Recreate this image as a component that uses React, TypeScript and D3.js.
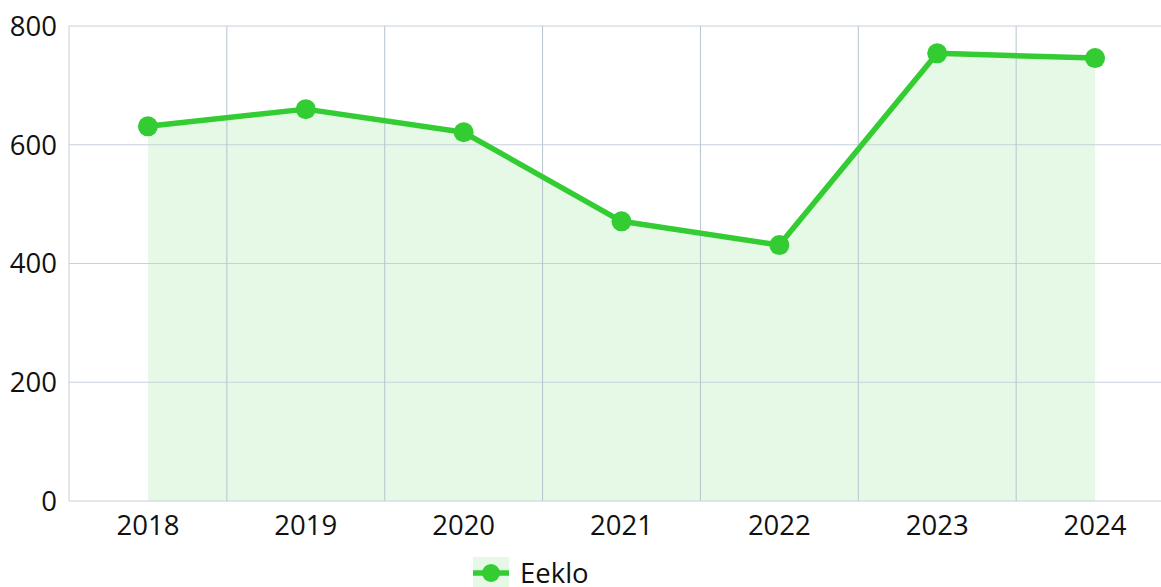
import React from 'react';
import * as d3 from 'd3';

const years = ['2018', '2019', '2020', '2021', '2022', '2023', '2024'];
const values = [631, 660, 621, 471, 431, 754, 746];
const yTicks = [0, 200, 400, 600, 800];
const seriesName = 'Eeklo';

const W = 1161;
const H = 587;
const LEFT = 69;
const RIGHT = 1174;
const TOP = 26;
const BOTTOM = 501;
const GREEN = '#33cc33';
const FILL = 'rgba(51,204,51,0.12)';
const FONT = '"Open Sans", "Noto Sans", sans-serif';
const FS = 27.5;

export default function App() {
  const x = d3.scaleBand<string>().domain(years).range([LEFT, RIGHT]);
  const y = d3.scaleLinear().domain([0, 800]).range([BOTTOM, TOP]);
  const cx = (yr: string) => (x(yr) ?? 0) + x.bandwidth() / 2;
  const pts = years.map((yr, i) => ({ yr, v: values[i] }));

  const line = d3.line<{ yr: string; v: number }>().x(d => cx(d.yr)).y(d => y(d.v));
  const area = d3.area<{ yr: string; v: number }>().x(d => cx(d.yr)).y0(y(0)).y1(d => y(d.v));

  return (
    <svg width={W} height={H} style={{ position: 'absolute', left: 0, top: 0, overflow: 'hidden' }} fontFamily={FONT}>
      <rect width={W} height={H} fill="#fff" />
      <path d={area(pts) ?? undefined} fill={FILL} />
      {/* horizontal grid */}
      {yTicks.map(t => (
        <line key={t} x1={LEFT} x2={RIGHT} y1={y(t)} y2={y(t)} stroke="#c8d0dc" strokeWidth={1} />
      ))}
      {/* vertical grid at band boundaries */}
      {years.map((yr, i) => (
        <line
          key={yr}
          x1={x(yr)}
          x2={x(yr)}
          y1={TOP}
          y2={BOTTOM}
          stroke={i === 0 ? '#c8d0dc' : '#b4c6cc'}
          strokeWidth={1}
        />
      ))}
      {yTicks.map(t => (
        <text key={t} x={57} y={y(t)} dy="0.36em" textAnchor="end" fontSize={FS} fill="#111">
          {t}
        </text>
      ))}
      {years.map(yr => (
        <text key={yr} x={cx(yr)} y={535} textAnchor="middle" fontSize={FS} fill="#111">
          {yr}
        </text>
      ))}
      <path d={line(pts) ?? undefined} fill="none" stroke={GREEN} strokeWidth={5.5} strokeLinejoin="round" />
      {pts.map(d => (
        <circle key={d.yr} cx={cx(d.yr)} cy={y(d.v)} r={10} fill={GREEN} />
      ))}
      {/* legend */}
      <g>
        <rect x={473} y={557} width={36} height={32} fill={FILL} />
        <line x1={473} x2={509} y1={573} y2={573} stroke={GREEN} strokeWidth={5.5} />
        <circle cx={491} cy={573} r={9} fill={GREEN} />
        <text x={520} y={583} fontSize={FS} fill="#111">{seriesName}</text>
      </g>
    </svg>
  );
}
